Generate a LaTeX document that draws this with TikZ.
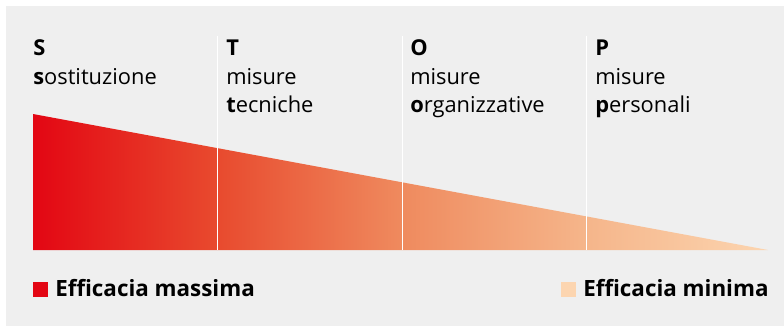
\documentclass[tikz,border=0pt]{standalone}
\usepackage{fontspec}
\setmainfont{Open Sans}

\definecolor{sfondo}{HTML}{EFEFEF}
\definecolor{rosso}{HTML}{E30613}
\definecolor{rossoA}{HTML}{E84A2E}
\definecolor{rossoB}{HTML}{EF8A5E}
\definecolor{rossoC}{HTML}{F5B58A}
\definecolor{pesca}{HTML}{FCD5B0}

\pgfdeclarehorizontalshading{efficacia}{100bp}{%
color(0bp)=(rosso); color(25bp)=(rosso); color(37.5bp)=(rossoA);
color(50bp)=(rossoB); color(62.5bp)=(rossoC); color(75bp)=(pesca);
color(100bp)=(pesca)}

\tikzset{
  riga/.style={anchor=base west,inner sep=0pt,font=\fontsize{16.4}{21}\selectfont},
  legenda/.style={anchor=base west,inner sep=0pt,font=\fontsize{16.8}{21}\selectfont\bfseries},
  divisore/.style={draw=white,line width=0.75pt}
}

\begin{document}
\begin{tikzpicture}[x=0.75pt,y=-0.75pt]
\useasboundingbox (0,0) rectangle (784,326);
\path[fill=sfondo] (6,6) rectangle (784,326);

% cuneo dell'efficacia
\shade[shading=efficacia]%
(33,114)--(768,250)--(33,250)--cycle;

\path[divisore] (217,36)--(217,250);
\path[divisore] (402,36)--(402,250);
\path[divisore] (586,36)--(586,250);

\node[riga] (s1) at (33,55)  {\textbf{S}};
\node[riga] (s2) at (33,84)  {\textbf{s}ostituzione};
\node[riga] (t1) at (226,55) {\textbf{T}};
\node[riga] (t2) at (226,84) {misure};
\node[riga] (t3) at (226,112) {\textbf{t}ecniche};
\node[riga] (o1) at (410,55) {\textbf{O}};
\node[riga] (o2) at (410,84) {misure};
\node[riga] (o3) at (410,112) {\textbf{o}rganizzative};
\node[riga] (p1) at (595,55) {\textbf{P}};
\node[riga] (p2) at (595,84) {misure};
\node[riga] (p3) at (595,112) {\textbf{p}ersonali};

% legenda
\path[fill=rosso] (33,282) rectangle (48,297);
\node[legenda] (massima) at (55,296) {Efficacia massima};
\path[fill=pesca] (561,282) rectangle (576,297);
\node[legenda] (minima) at (583,296) {Efficacia minima};

\end{tikzpicture}
\end{document}
